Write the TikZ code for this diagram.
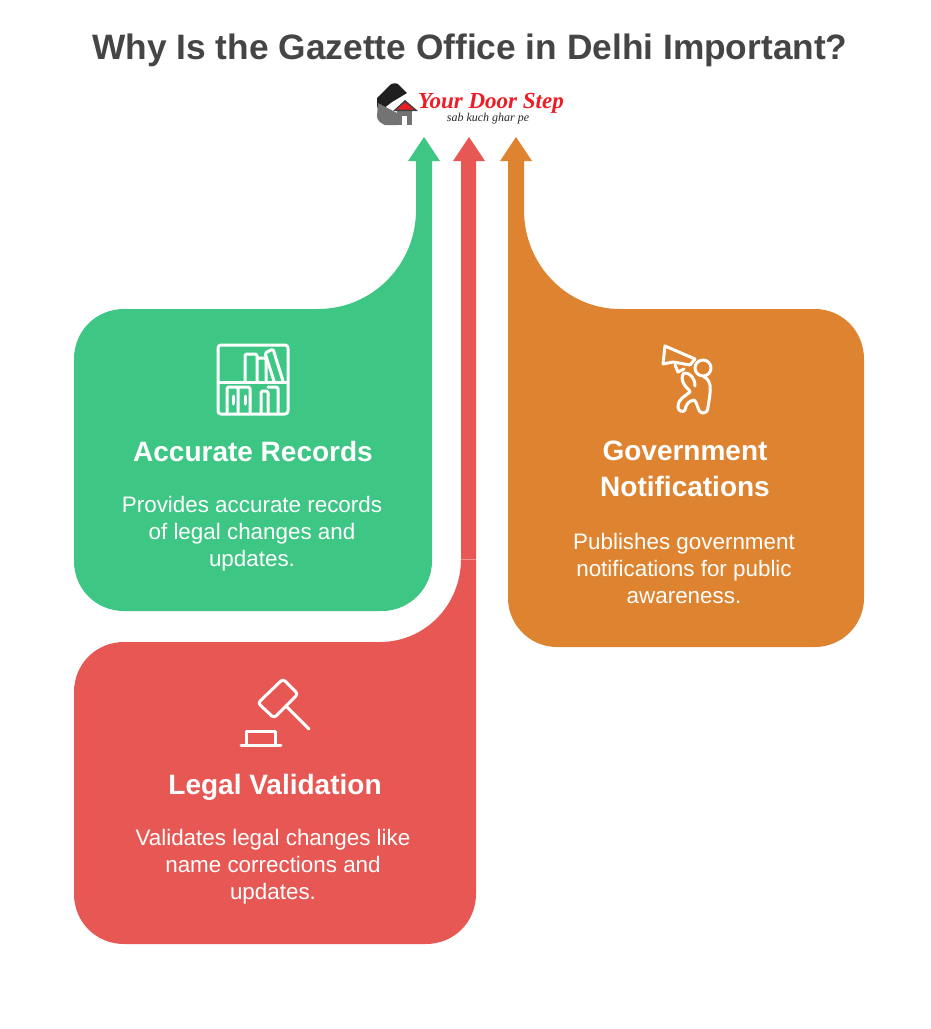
\documentclass[tikz,border=0pt]{standalone}
\usepackage{fontspec}
\setmainfont{Liberation Sans}
\newfontfamily\logofont{Liberation Serif}
\definecolor{grn}{HTML}{3EC684}
\definecolor{rd}{HTML}{E75854}
\definecolor{org}{HTML}{DE8431}
\definecolor{ttl}{HTML}{454545}
\definecolor{logored}{HTML}{EE1C25}
\tikzset{
 band/.style={draw=none},
 icon/.style={draw=white,line width=3pt,line cap=round,line join=round},
 headtxt/.style={text=white,align=center,font=\bfseries\fontsize{28}{36}\selectfont,inner sep=0pt},
 bodytxt/.style={text=white,align=center,font=\fontsize{22.4}{27}\selectfont,inner sep=0pt},
}
\begin{document}
\begin{tikzpicture}[x=1pt,y=-1pt]
\useasboundingbox (0,0) rectangle (931,1029);
% green
\fill[grn,band] (124,309) -- (318,309) .. controls (372,309) and (416,265) .. (416,210) -- (416,161) -- (408,161) -- (424,137) -- (440,161) -- (432,161) -- (432,561) .. controls (432,589) and (409,611) .. (382,611) -- (124,611) .. controls (96,611) and (74,589) .. (74,561) -- (74,359) .. controls (74,331) and (96,309) .. (124,309) -- cycle;
% red
\fill[rd,band] (124,642) -- (380,642) .. controls (425,642) and (461,605) .. (461,559) -- (461,161) -- (453,161) -- (469,137) -- (485,161) -- (476,161) -- (476,894) .. controls (476,922) and (454,944) .. (426,944) -- (124,944) .. controls (96,944) and (74,922) .. (74,894) -- (74,692) .. controls (74,664) and (96,642) .. (124,642) -- cycle;
\draw[white,opacity=.35,line width=.6pt] (461,559) -- (476,559);
% orange
\fill[org,band] (815,309) -- (620,309) .. controls (567,309) and (524,265) .. (524,210) -- (524,161) -- (532,161) -- (516,137) -- (500,161) -- (508,161) -- (508,598) .. controls (508,625) and (530,647) .. (557,647) -- (815,647) .. controls (842,647) and (864,625) .. (864,598) -- (864,359) .. controls (864,331) and (842,309) .. (815,309) -- cycle;
% title
\node[text=ttl,inner sep=0pt,font=\bfseries\fontsize{35.3}{44}\selectfont] (title) at (470,50) {Why Is the Gazette Office in Delhi Important?};
% logo
\fill[black!88] (377,98) -- (390,85) .. controls (392,83) and (396,83) .. (398,84) -- (407,93) -- (392,102) -- (379,112) -- (377,106) -- cycle;
\fill[black!55] (378,103) -- (397,113) -- (397,125) -- (385,125) .. controls (380,123) and (377,120) .. (377,116) -- cycle;
\fill[black!55] (397,111) rectangle (412,125);
\fill[white] (402,116) rectangle (407,125);
\fill[black!75] (393,111) -- (405,100) -- (418,111) -- cycle;
\fill[logored] (397,109.5) -- (405,102.5) -- (414,109.5) -- cycle;
\node[text=logored,inner sep=0pt,font=\logofont\bfseries\itshape\fontsize{23}{25}\selectfont] (logoa) at (491,103) {Your Door Step};
\node[text=black!85,inner sep=0pt,font=\logofont\itshape\fontsize{12}{12}\selectfont] (logob) at (488,119) {sab kuch ghar pe};
% green icon
\begin{scope}[icon]
\draw[rounded corners=3pt] (218,345) rectangle (288,414);
\draw (218,382) -- (288,382);
\draw[rounded corners=1.5pt] (245,382) -- (245,354) -- (257,354) -- (257,382);
\draw[rounded corners=1.5pt] (257,358) -- (266,358) -- (266,382);
\draw[rounded corners=1.5pt] (274,381) -- (265,353) -- (273,349) -- (283,381);
\draw[rounded corners=1.5pt] (227,413) -- (227,387) -- (238,387) -- (238,413);
\draw[rounded corners=1.5pt] (238,387) -- (250,387) -- (250,413);
\draw[rounded corners=1.5pt] (261,413) -- (261,391) -- (268,391) -- (268,413);
\draw[rounded corners=1.5pt] (268,387) -- (278,387) -- (278,413);
\draw (233,396) -- (233,404) (245,396) -- (245,404);
\end{scope}
% orange icon
\begin{scope}[icon]
\draw (665,346) -- (663,364) -- (673,362) -- (690,365) -- (695,359) -- cycle;
\draw (703,368) circle (8pt);
\draw (675,365) -- (678,372) -- (684,369);
\draw (684,373) .. controls (681,376) and (682,381) .. (684,384) .. controls (686,388) and (690,390) .. (690,392) .. controls (686,396) and (678,398) .. (678,407) .. controls (678,411) and (683,413) .. (685,410) .. controls (686,405) and (688,401) .. (694,400) .. controls (698,402) and (697,412) .. (702,413) .. controls (706,413) and (708,411) .. (708,407) .. controls (709,400) and (711,392) .. (710,385) .. controls (709,381) and (707,378) .. (704,377);
\draw (685,373) .. controls (690,373) and (695,378) .. (695,386);
\end{scope}
% red icon
\begin{scope}[icon]
\draw[rounded corners=3pt] (258,703) -- (283,679) -- (298,694) -- (274,718) -- cycle;
\draw (287,707) -- (309,729);
\draw (246,745) -- (246,731) -- (275,731) -- (275,745);
\draw (241,745) -- (281,745);
\end{scope}
% text
\node[headtxt] (h1) at (253,451.5) {Accurate Records};
\node[bodytxt] (b1) at (252,534) {Provides accurate records\\of legal changes and\\updates.};
\node[headtxt] (h2) at (275,787) {Legal Validation};
\node[bodytxt] (b2) at (273,867) {Validates legal changes like\\name corrections and\\updates.};
\node[headtxt] (h3) at (685,469) {Government\\Notifications};
\node[bodytxt] (b3) at (684,568) {Publishes government\\notifications for public\\awareness.};
\end{tikzpicture}
\end{document}
